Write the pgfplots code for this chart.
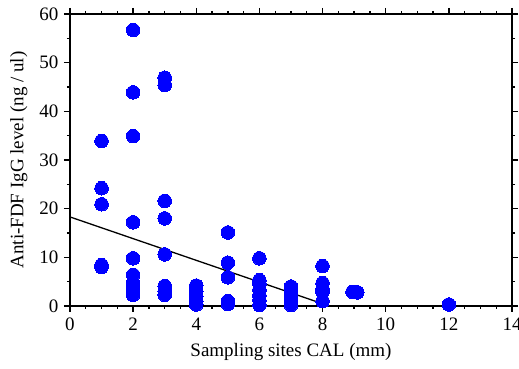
\documentclass[border=0pt]{standalone}
\usepackage{fontspec}
\setmainfont{Liberation Serif}
\usepackage{pgfplots}
\pgfplotsset{compat=1.18}
\definecolor{pb}{RGB}{0,0,255}
\begin{document}
\begin{tikzpicture}
\begin{axis}[
  scale only axis,
  width=442pt, height=292pt,
  xmin=0, xmax=14, ymin=0, ymax=60,
  xtick={0,2,...,14}, ytick={0,10,...,60},
  minor x tick num=3, minor y tick num=1,
  tick align=outside,
  xtick pos=both, ytick pos=both,
  xticklabel pos=bottom, yticklabel pos=left,
  major tick length=6pt, minor tick length=3pt,
  every tick/.style={black, line width=1.3pt},
  axis line style={line width=1.8pt},
  /pgf/number format/assume math mode=true,
  tick label style={font=\fontsize{19}{22}\selectfont},
  label style={font=\fontsize{19}{22}\selectfont},
  xlabel={Sampling sites CAL (mm)},
  ylabel={Anti-FDF IgG level (ng / ul)},
  xticklabel style={yshift=-2pt},
  yticklabel style={xshift=-2pt},
  xlabel style={yshift=-6pt},
  ylabel style={yshift=5pt},
  clip=false,
]
\addplot[only marks, mark=*, mark size=6.8pt, color=pb, mark options={fill=pb, draw=pb, line width=0pt}] coordinates {
(1,33.9) (1,24.2) (1,20.9) (1,8.4) (1,8.0)
(2,56.7) (2,43.9) (2,34.9) (2,17.2) (2,9.8) (2,6.4) (2,4.7) (2,4.0) (2,3.3) (2,2.3)
(3,46.9) (3,45.4) (3,21.6) (3,18.0) (3,10.6) (3,4.1) (3,3.0) (3,2.3)
(4,4.2) (4,3.0) (4,2.0) (4,1.0) (4,0.3)
(5,15.1) (5,8.9) (5,5.9) (5,1.0) (5,0.4)
(6,9.8) (6,5.3) (6,4.5) (6,3.3) (6,2.2) (6,1.2) (6,0.2)
(7,4.0) (7,3.0) (7,2.0) (7,1.0) (7,0.2)
(8,8.2) (8,4.7) (8,3.5) (8,2.9) (8,1.0)
(8.95,2.9) (9.1,2.8)
(12,0.3)
};
\addplot[black, line width=1.3pt] coordinates {(0,18.3) (7.85,0.8)};
\end{axis}
\pgfresetboundingbox
\path ([xshift=-70pt,yshift=-63pt]current axis.south west) rectangle ([xshift=7pt,yshift=14pt]current axis.north east);
\end{tikzpicture}
\end{document}
